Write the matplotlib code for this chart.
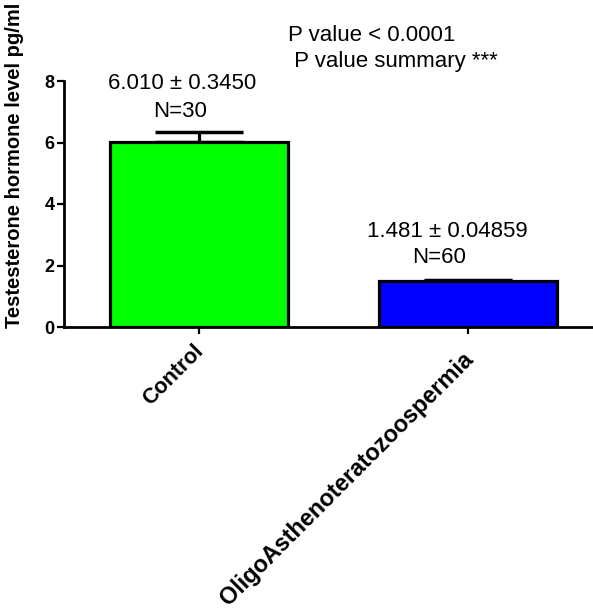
import matplotlib
matplotlib.use("Agg")
import matplotlib.pyplot as plt

plt.rcParams['font.family'] = ['Liberation Sans', 'DejaVu Sans']

# Group means, SEM and sample sizes
groups = ["Control", "OligoAsthenoteratozoospermia"]
means = [6.010, 1.481]
sems = [0.3450, 0.04859]
ns = [30, 60]
stat_labels = ["6.010 \u00b1 0.3450", "1.481 \u00b1 0.04859"]
colors = ["#00ff00", "#0000ff"]
yticks = [0, 2, 4, 6, 8]
p_text = "P value < 0.0001"
p_summary = " P value summary ***"

W, H = 593, 610
fig = plt.figure(figsize=(W / 100, H / 100), dpi=100)
ax = fig.add_axes([64 / W, (H - 327) / H, (W - 64) / W, (327 - 81) / H])

x = list(range(len(groups)))
ax.bar(x, means, width=0.66, color=colors, edgecolor="black", linewidth=2.3, zorder=2)
ax.errorbar(x, means, yerr=[[0] * len(sems), sems], fmt="none", ecolor="black",
            elinewidth=2.3, capsize=32, capthick=2.5, zorder=1)

ax.set_xlim(-0.502, 1.465)
ax.set_ylim(0, 8)
ax.set_yticks(yticks)
ax.set_yticklabels([str(t) for t in yticks], fontsize=13, fontweight="bold")
ax.set_xticks(x)
ax.set_xticklabels([])

# Rotated category labels hung below each tick
label_sizes = [15.5, 16.8]
label_offsets = [(-6, -14), (-6, -21)]
for xi, name, fs, off in zip(x, groups, label_sizes, label_offsets):
    ax.annotate(name, xy=(xi, 0), xycoords=("data", "axes fraction"),
                xytext=off, textcoords="offset pixels", rotation=45,
                ha="right", va="top", rotation_mode="anchor",
                fontsize=fs, fontweight="bold", annotation_clip=False)

for side in ("top", "right"):
    ax.spines[side].set_visible(False)
for side in ("left", "bottom"):
    ax.spines[side].set_linewidth(2.0)
ax.tick_params(axis="both", width=1.6, length=5, direction="out", pad=2)

ax.set_ylabel("Testesterone hormone level pg/ml", fontsize=14.5, fontweight="bold")
ax.yaxis.set_label_coords(-40 / (W - 64), 0.655)

# Annotations placed in figure pixel coordinates
def ftext(px, py, s, ha="center"):
    fig.text(px / W, 1 - py / H, s, ha=ha, va="baseline", fontsize=16)

ftext(182, 89, stat_labels[0])
ftext(180, 117, f"N={ns[0]}")
ftext(447, 237, stat_labels[1])
ftext(439, 263, f"N={ns[1]}")
ftext(288, 41, p_text, ha="left")
ftext(288, 67, p_summary, ha="left")

fig.savefig("out.png", dpi=100)
